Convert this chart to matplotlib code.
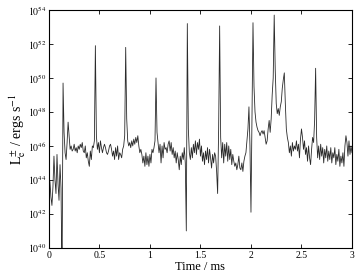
import numpy as np
from matplotlib import pyplot as plt
from matplotlib.ticker import FixedLocator

plt.rcParams['font.family'] = 'serif'
plt.rcParams['font.serif'] = ['Liberation Serif', 'DejaVu Serif']
plt.rcParams['mathtext.fontset'] = 'stix'

# time step of the run, ms
dt = 0.01

# log10 of the luminosity, one row per 0.1 ms
logL = [
    44.0, 43.9, 43.0, 42.5, 43.6, 45.4, 44.0, 43.2, 45.5, 43.8,
    42.8, 44.9, 43.5, 38.0, 49.7, 46.8, 45.6, 45.2, 46.2, 47.4,
    46.6, 45.8, 46.0, 45.7, 45.8, 46.1, 45.7, 45.9, 45.6, 46.0,
    45.8, 46.1, 45.9, 46.2, 45.7, 45.6, 46.0, 45.3, 45.6, 45.1,
    44.8, 45.7, 45.2, 46.0, 45.9, 46.3, 51.9, 46.6, 45.8, 46.2,
    45.6, 46.3, 45.9, 45.6, 45.9, 46.1, 45.9, 45.6, 45.5, 45.7,
    46.0, 46.1, 45.8, 45.4, 45.7, 45.2, 45.9, 45.4, 46.0, 45.2,
    45.6, 45.5, 45.3, 45.8, 46.0, 46.6, 51.8, 47.6, 46.3, 46.0,
    46.2, 45.9, 46.3, 46.0, 46.4, 46.1, 46.5, 46.2, 46.6, 46.0,
    45.6, 45.8, 45.5, 45.0, 45.4, 44.8, 45.6, 44.9, 45.4, 44.8,
    45.5, 45.0, 45.8, 45.6, 45.9, 46.3, 50.0, 46.8, 46.2, 45.6,
    46.1, 45.0, 46.0, 45.3, 46.2, 45.8, 45.9, 45.6, 46.1, 46.3,
    45.7, 46.2, 45.5, 45.9, 45.3, 45.7, 45.0, 45.6, 45.2, 44.6,
    45.4, 44.9, 45.6, 45.2, 45.9, 45.0, 41.0, 53.2, 47.0, 45.6,
    45.2, 45.9, 45.3, 46.1, 45.6, 46.3, 45.5, 46.2, 45.8, 46.4,
    45.4, 46.0, 45.1, 45.6, 44.9, 45.7, 45.2, 45.9, 45.0, 45.8,
    45.3, 44.7, 45.5, 45.0, 45.6, 45.4, 44.5, 43.2, 47.0, 53.06,
    46.5, 45.3, 46.2, 45.0, 46.1, 45.4, 46.2, 45.1, 46.0, 45.2,
    45.8, 44.9, 45.5, 45.1, 44.8, 45.0, 44.6, 44.9, 45.4, 44.7,
    44.6, 45.0, 44.5, 45.1, 45.4, 45.6, 46.3, 47.0, 48.3, 46.0,
    42.1, 47.5, 53.25, 49.5, 48.0, 47.4, 47.1, 46.9, 46.8, 46.6,
    46.8, 46.9, 46.7, 46.9, 46.5, 46.1, 46.3, 47.0, 47.5, 46.8,
    47.6, 49.0, 50.0, 53.7, 50.5, 48.5, 47.9, 48.2, 47.8, 48.3,
    48.6, 49.4, 49.9, 50.3, 48.5, 47.0, 46.5, 46.2, 45.6, 46.0,
    45.4, 46.2, 45.7, 46.0, 45.8, 46.3, 45.7, 46.1, 45.3, 46.4,
    47.0, 46.5, 45.8, 46.3, 45.5, 45.9, 45.1, 46.0, 45.3, 44.9,
    45.8, 46.5, 46.2, 47.5, 50.57, 46.5, 45.3, 46.0, 45.2, 46.1,
    45.4, 45.9, 45.0, 45.8, 45.3, 46.0, 45.1, 45.7, 45.2, 45.9,
    45.0, 45.6, 45.3, 45.9, 44.9, 45.5, 45.1, 45.8, 44.8, 45.4,
    45.0, 45.6, 44.8, 46.0, 46.6, 46.2, 45.4, 46.3, 45.5, 46.0,
    45.6,
]

t = np.arange(len(logL)) * dt
L = 10.0 ** np.array(logL)

xticks = [0, 0.5, 1, 1.5, 2, 2.5, 3]
xticklabels = ['0', '0.5', '1', '1.5', '2', '2.5', '3']
yexp = [40, 42, 44, 46, 48, 50, 52, 54]

fig = plt.figure(figsize=(3.57, 2.77), dpi=100)
ax = fig.add_axes([0.137, 0.105, 0.849, 0.859])
ax.plot(t, L, color='#2a2a2a', lw=0.6)
ax.set_yscale('log')
ax.set_xlim(0, 3)
ax.set_ylim(1e40, 1e54)

ax.set_xticks(xticks)
ax.set_xticklabels(xticklabels)
ax.yaxis.set_major_locator(FixedLocator([10.0 ** e for e in yexp]))
ax.yaxis.set_minor_locator(FixedLocator([]))
ax.set_yticklabels([r'$10^{%d}$' % e for e in yexp])
ax.tick_params(direction='in', top=True, right=True, length=3, width=0.6,
               labelsize=7, pad=2)
for s in ax.spines.values():
    s.set_linewidth(0.8)

ax.set_xlabel('Time / ms', fontsize=9, labelpad=1)
ax.set_ylabel(r'$\mathrm{L}_{\mathrm{e}}^{\pm}$ / ergs s$^{-1}$', fontsize=10, labelpad=0)

plt.savefig('out.png', dpi=100)
